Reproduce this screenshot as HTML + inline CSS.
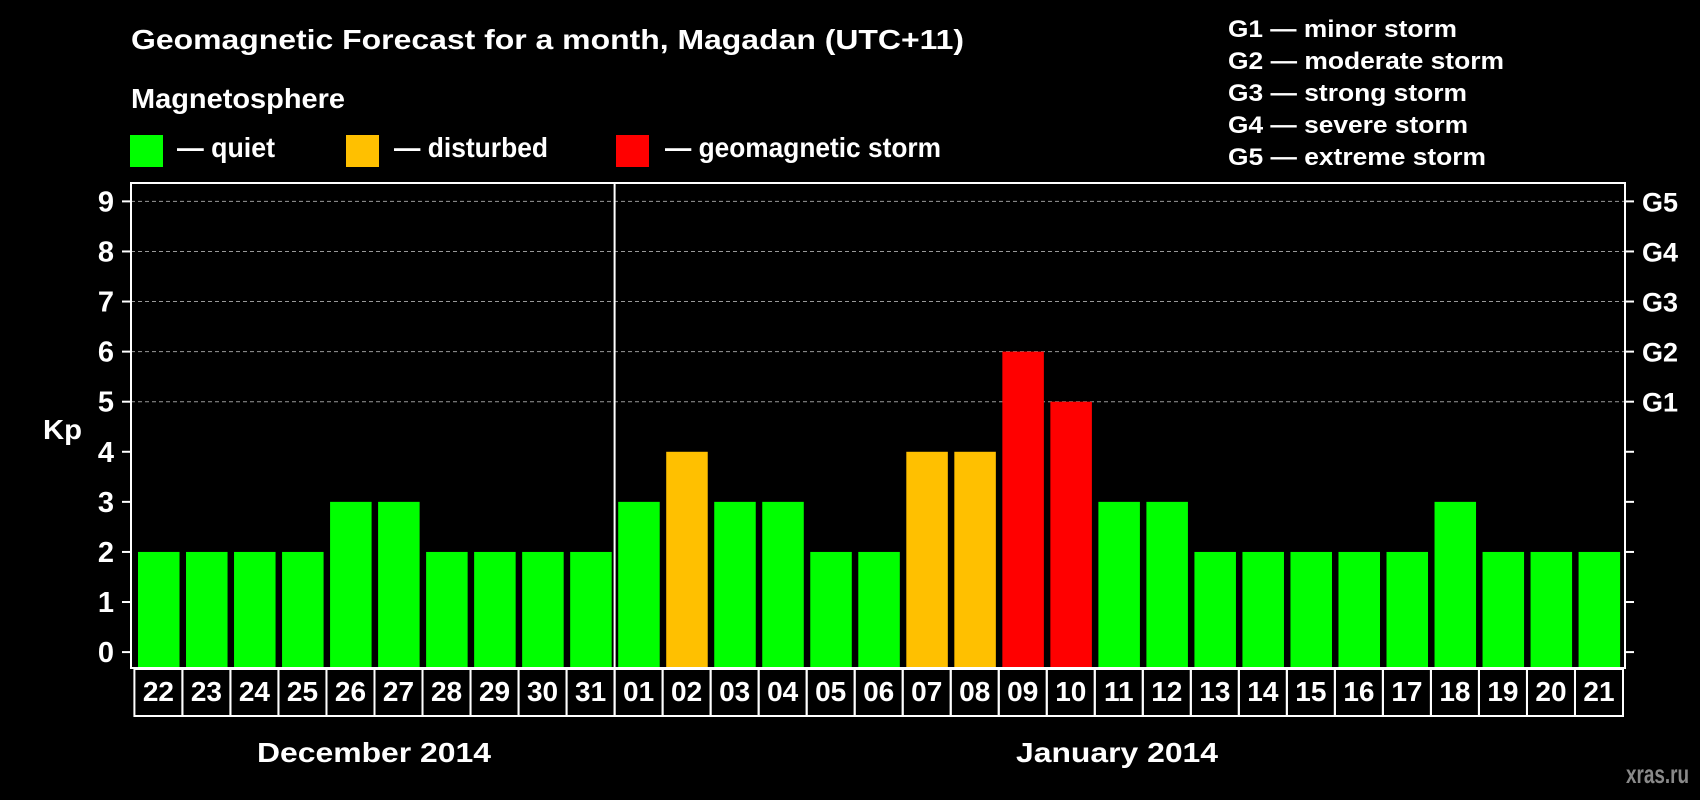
<!DOCTYPE html>
<html><head><meta charset="utf-8"><style>
html,body{margin:0;padding:0;background:#000;width:1700px;height:800px;overflow:hidden}
svg text{font-family:"Liberation Sans",sans-serif;font-weight:bold;fill:#fff}
</style></head><body>
<svg id="chart" width="1700" height="800" viewBox="0 0 1700 800" xmlns="http://www.w3.org/2000/svg">
<rect width="1700" height="800" fill="#000"/>
<text x="131" y="49" font-size="28" textLength="833" lengthAdjust="spacingAndGlyphs">Geomagnetic Forecast for a month, Magadan (UTC+11)</text>
<text x="131" y="108" font-size="28" textLength="214" lengthAdjust="spacingAndGlyphs">Magnetosphere</text>
<rect x="130" y="135" width="33" height="32" fill="#00ff00"/>
<text x="177" y="157" font-size="28" textLength="98" lengthAdjust="spacingAndGlyphs">— quiet</text>
<rect x="346" y="135" width="33" height="32" fill="#ffc000"/>
<text x="394" y="157" font-size="28" textLength="154" lengthAdjust="spacingAndGlyphs">— disturbed</text>
<rect x="616" y="135" width="33" height="32" fill="#ff0000"/>
<text x="665" y="157" font-size="28" textLength="276" lengthAdjust="spacingAndGlyphs">— geomagnetic storm</text>
<g font-size="24">
<text x="1228" y="37" textLength="229" lengthAdjust="spacingAndGlyphs">G1 — minor storm</text>
<text x="1228" y="69" textLength="276" lengthAdjust="spacingAndGlyphs">G2 — moderate storm</text>
<text x="1228" y="101" textLength="239" lengthAdjust="spacingAndGlyphs">G3 — strong storm</text>
<text x="1228" y="133" textLength="240" lengthAdjust="spacingAndGlyphs">G4 — severe storm</text>
<text x="1228" y="165" textLength="258" lengthAdjust="spacingAndGlyphs">G5 — extreme storm</text>
</g>
<text x="43" y="439" font-size="28" textLength="39" lengthAdjust="spacingAndGlyphs">Kp</text>
<g id="plot"></g>
<text x="374" y="762" font-size="28" text-anchor="middle" textLength="234" lengthAdjust="spacingAndGlyphs">December 2014</text>
<text x="1117" y="762" font-size="28" text-anchor="middle" textLength="202" lengthAdjust="spacingAndGlyphs">January 2014</text>
<text x="1689" y="783" font-size="26" text-anchor="end" style="fill:#8a8a8a" textLength="63" lengthAdjust="spacingAndGlyphs">xras.ru</text>
</svg>
<script>
const days = ["22","23","24","25","26","27","28","29","30","31","01","02","03","04","05","06","07","08","09","10","11","12","13","14","15","16","17","18","19","20","21"];
const kpValues = [2,2,2,2,3,3,2,2,2,2,3,4,3,3,2,2,4,4,6,5,3,3,2,2,2,2,2,3,2,2,2];
const yTicks = [0,1,2,3,4,5,6,7,8,9];
const gLabels = ["G1","G2","G3","G4","G5"];
const gLevels = [5,6,7,8,9];
const monthBreakIndex = 10;

const NS = "http://www.w3.org/2000/svg";
const plot = document.getElementById("plot");
const L = 131, R = 1625, T = 183, B = 668;
const boxL = 134.4, boxW = (1623 - 134.4) / days.length;
const y = v => 652.1 - v * 50.08;
const x = i => boxL + i * boxW;
function mk(tag, attrs) { const e = document.createElementNS(NS, tag); for (const k in attrs) e.setAttribute(k, attrs[k]); plot.appendChild(e); return e; }
function color(v) { return v >= 5 ? "#ff0000" : (v >= 4 ? "#ffc000" : "#00ff00"); }

yTicks.forEach(t => {
  if (t >= 5) {
    const g = mk("line", {x1: L, x2: R, y1: y(t), y2: y(t), stroke: "#999", "stroke-width": 1, "stroke-dasharray": "4,3"});
    
    
  }
  const tl = mk("line", {x1: L - 9, x2: L, y1: y(t), y2: y(t), stroke: "#fff", "stroke-width": 2});
  
  
  const tr = mk("line", {x1: R, x2: R + 9, y1: y(t), y2: y(t), stroke: "#fff", "stroke-width": 2});
  
  
  const lb = mk("text", {x: 114, y: y(t) + 10, "font-size": 29, "text-anchor": "end"});
  lb.textContent = t;
  
  
});
gLabels.forEach((g, i) => {
  const lb = mk("text", {x: 1642, y: y(gLevels[i]) + 10, "font-size": 27});
  lb.textContent = g;
  
  
});
kpValues.forEach((v, i) => {
  const b = mk("rect", {x: x(i) + 3.6, y: y(v), width: boxW - 6.5, height: B - y(v), fill: color(v)});
  
  
});
const frame = mk("rect", {x: L, y: T, width: R - L, height: B - T, fill: "none", stroke: "#fff", "stroke-width": 2});


const div = mk("line", {x1: x(monthBreakIndex), x2: x(monthBreakIndex), y1: T, y2: 716, stroke: "#fff", "stroke-width": 2});


days.forEach((d, i) => {
  const bx = mk("rect", {x: x(i), y: 669, width: boxW, height: 47, fill: "none", stroke: "#fff", "stroke-width": 2});
  
  
  const t = mk("text", {x: x(i) + boxW / 2, y: 701, "font-size": 28, "text-anchor": "middle"});
  t.textContent = d;
  
  
});
</script>
</body></html>
